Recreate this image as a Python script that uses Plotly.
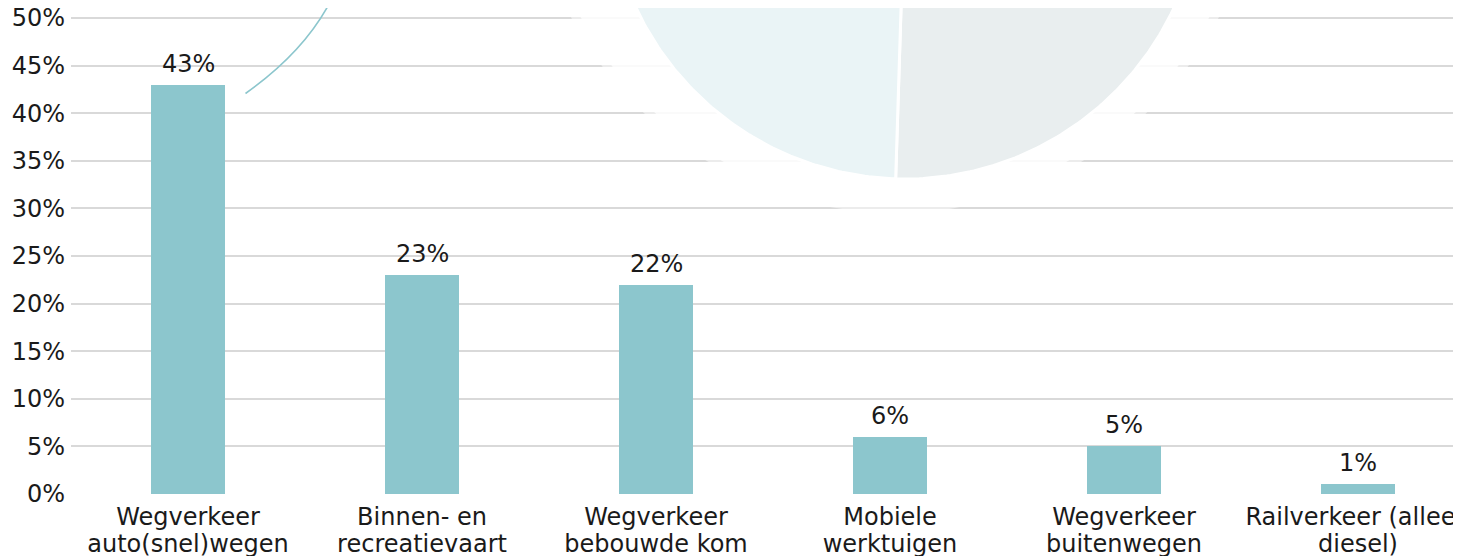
import numpy as np
import plotly.graph_objects as go

# ---- data ----
categories = [
    "Wegverkeer<br>auto(snel)wegen",
    "Binnen- en<br>recreatievaart",
    "Wegverkeer<br>bebouwde kom",
    "Mobiele<br>werktuigen",
    "Wegverkeer<br>buitenwegen",
    "Railverkeer (alleen<br>diesel)",
]
shares = [43, 23, 22, 6, 5, 1]
y_ticks = [0, 5, 10, 15, 20, 25, 30, 35, 40, 45, 50]

pie_labels = ["Overig", "Verkeer en vervoer"]
pie_values = [50.5, 49.5]

label_line1 = [c.split("<br>")[0] for c in categories]
label_line2 = [c.split("<br>")[1] for c in categories]

# ---- styles / layout constants ----
OFF = 8                      # browser body margin
W, H = 1461 - OFF, 556 - OFF
PAGE_L, PAGE_R, PAGE_T, PAGE_B = 71, 1461, OFF, 494   # plot area in page px
ML, MT = PAGE_L - OFF, 0
MB = H - (PAGE_B - OFF)
PX_PER_PCT = 9.52
BAR_COLOR = "#8cc6cd"
GRID = "#d9d9d9"
FONT = "DejaVu Sans"
TXT = "#1a1a1a"
FS = 24
LINE1_STANDOFF = 6
LINE_GAP = 27
pie_colors = ["#e9eeef", "#eaf4f6"]
CX, CY, R = 905, -118, 297          # pie centre / radius in page pixels
HALO = [(895, -153, 366, 0.5), (895, -150, 356, 0.75)]

fig = go.Figure()

fig.add_trace(go.Bar(
    x=categories, y=shares, width=0.316,
    marker=dict(color=BAR_COLOR, line=dict(width=0)),
    hoverinfo="skip", showlegend=False,
))
# carrier for the second label row axis (draws nothing)
fig.add_trace(go.Scatter(x=categories, y=[0] * len(categories), xaxis="x3",
                         mode="none", hoverinfo="skip", showlegend=False))

# value labels
for c, v in zip(categories, shares):
    fig.add_annotation(x=c, y=v, xref="x", yref="y", text=f"{v}%",
                       showarrow=False, yanchor="bottom", yshift=5,
                       font=dict(family=FONT, size=FS, color=TXT))

# halo (soft white glow) around the pie
for hx, hy, hr, op in HALO:
    th = np.linspace(0, 2 * np.pi, 361)
    fig.add_trace(go.Scatter(
        x=hx + hr * np.sin(th), y=hy - hr * np.cos(th),
        xaxis="x2", yaxis="y2", mode="lines", fill="toself",
        fillcolor="white", line=dict(width=0), opacity=op,
        hoverinfo="skip", showlegend=False,
    ))

# pie slices (clockwise from 12 o'clock)
total = sum(pie_values)
start = 0.0
for lab, val, col in zip(pie_labels, pie_values, pie_colors):
    end = start + val / total * 2 * np.pi
    th = np.linspace(start, end, 240)
    xs = np.concatenate([[CX], CX + R * np.sin(th), [CX]])
    ys = np.concatenate([[CY], CY - R * np.cos(th), [CY]])
    fig.add_trace(go.Scatter(
        x=xs, y=ys, xaxis="x2", yaxis="y2", mode="lines", fill="toself",
        fillcolor=col, line=dict(color="white", width=3), name=lab,
        hoverinfo="skip", showlegend=False,
    ))
    start = end

# connector curve from the first bar
fig.add_shape(type="path", xref="x2", yref="y2",
              path="M 245.5,93.5 Q 309.6,48 335,-8",
              line=dict(color=BAR_COLOR, width=1.6))

cat_px = 234
x_range = [-0.5, -0.5 + (PAGE_R - PAGE_L) / cat_px]
common_x = dict(type="category", range=x_range, showgrid=False, zeroline=False,
                showline=False, ticks="", automargin=False, fixedrange=True,
                tickfont=dict(family=FONT, size=FS, color=TXT),
                tickvals=categories)
fig.update_layout(
    width=W, height=H, autosize=False,
    margin=dict(l=ML, r=0, t=MT, b=MB, pad=0),
    paper_bgcolor="white", plot_bgcolor="white",
    font=dict(family=FONT, size=FS, color=TXT),
    bargap=0,
    xaxis=dict(**common_x, ticktext=label_line1, ticklabelstandoff=LINE1_STANDOFF),
    xaxis3=dict(**common_x, ticktext=label_line2, overlaying="x", anchor="y",
                side="bottom", ticklabelstandoff=LINE1_STANDOFF + LINE_GAP),
    yaxis=dict(range=[0, (PAGE_B - PAGE_T) / PX_PER_PCT], tickvals=y_ticks,
               ticktext=[f"{t}%" for t in y_ticks],
               showgrid=True, gridcolor=GRID, gridwidth=2,
               zeroline=False, showline=False, ticks="",
               ticklabelstandoff=5, ticklabeloverflow="allow",
               tickfont=dict(family=FONT, size=FS, color=TXT),
               automargin=False, fixedrange=True),
    xaxis2=dict(overlaying="x", range=[PAGE_L, PAGE_R], visible=False, fixedrange=True),
    yaxis2=dict(overlaying="y", range=[PAGE_B, PAGE_T], visible=False, fixedrange=True),
)

fig.write_html("out.html", config={"displayModeBar": False})
